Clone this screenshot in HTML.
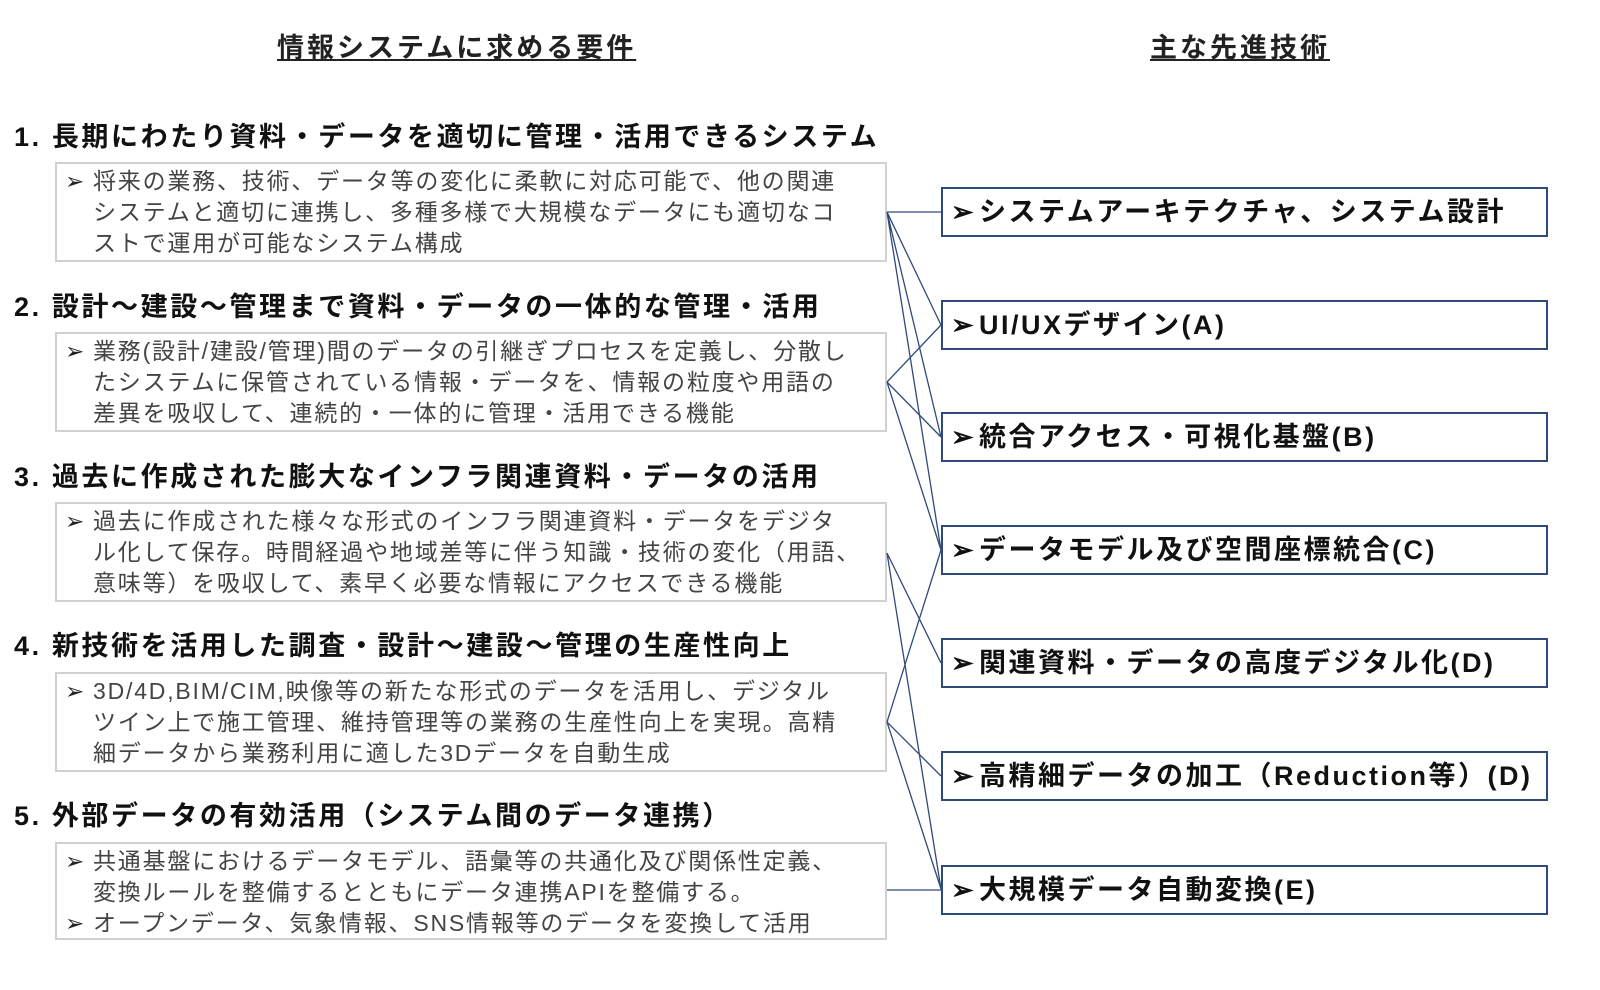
<!DOCTYPE html><html><head><meta charset="utf-8"><style>
body{margin:0;width:1600px;height:990px;background:#fff;position:relative;font-family:"Liberation Sans","Noto Sans CJK JP",sans-serif;color:#222;overflow:hidden}
.t{position:absolute;font-size:27px;font-weight:bold;text-decoration:underline;white-space:nowrap;letter-spacing:3px}
.h{position:absolute;left:14px;font-size:27px;font-weight:bold;white-space:nowrap;color:#111;letter-spacing:2.6px}
.b{position:absolute;left:55px;width:832px;height:98px;border:2px solid #d0d0d0;box-sizing:border-box;font-size:23px;line-height:31px;color:#444;padding:2px 0 0 36px;letter-spacing:1.8px}
.b p{margin:0;position:relative;white-space:nowrap}
.b p:before{content:"➢";position:absolute;left:-28px;color:#222}
.r{position:absolute;left:941px;width:607px;height:50px;border:2px solid #2f4a7a;box-sizing:border-box;font-size:27px;font-weight:bold;line-height:46px;padding-left:36px;white-space:nowrap;color:#111;letter-spacing:2.5px}
.r:before{content:"➢";position:absolute;left:8px}
</style></head><body>
<div class="t" style="left:277px;top:26px">情報システムに求める要件</div>
<div class="t" style="left:1150px;top:26px">主な先進技術</div>
<div class="h" style="top:115px">1. 長期にわたり資料・データを適切に管理・活用できるシステム</div>
<div class="b" style="top:162px;height:100px"><p>将来の業務、技術、データ等の変化に柔軟に対応可能で、他の関連<br>システムと適切に連携し、多種多様で大規模なデータにも適切なコ<br>ストで運用が可能なシステム構成</p></div>
<div class="h" style="top:285px">2. 設計～建設～管理まで資料・データの一体的な管理・活用</div>
<div class="b" style="top:332px;height:100px"><p>業務(設計/建設/管理)間のデータの引継ぎプロセスを定義し、分散し<br>たシステムに保管されている情報・データを、情報の粒度や用語の<br>差異を吸収して、連続的・一体的に管理・活用できる機能</p></div>
<div class="h" style="top:455px">3. 過去に作成された膨大なインフラ関連資料・データの活用</div>
<div class="b" style="top:502px;height:100px"><p>過去に作成された様々な形式のインフラ関連資料・データをデジタ<br>ル化して保存。時間経過や地域差等に伴う知識・技術の変化（用語、<br>意味等）を吸収して、素早く必要な情報にアクセスできる機能</p></div>
<div class="h" style="top:624px">4. 新技術を活用した調査・設計～建設～管理の生産性向上</div>
<div class="b" style="top:672px;height:100px"><p>3D/4D,BIM/CIM,映像等の新たな形式のデータを活用し、デジタル<br>ツイン上で施工管理、維持管理等の業務の生産性向上を実現。高精<br>細データから業務利用に適した3Dデータを自動生成</p></div>
<div class="h" style="top:794px">5. 外部データの有効活用（システム間のデータ連携）</div>
<div class="b" style="top:842px;height:98px"><p>共通基盤におけるデータモデル、語彙等の共通化及び関係性定義、<br>変換ルールを整備するとともにデータ連携APIを整備する。</p><p>オープンデータ、気象情報、SNS情報等のデータを変換して活用</p></div>
<svg style="position:absolute;left:0;top:0" width="1600" height="990"><g stroke="#2f4a7a" stroke-width="1.3" fill="none">
<path d="M887 212L941 212M887 212L941 325M887 212L941 437M887 212L941 550"/>
<path d="M887 382L941 325M887 382L941 437M887 382L941 550"/>
<path d="M887 553L941 663M887 553L941 889"/>
<path d="M887 722L941 550M887 722L941 776M887 722L941 889"/>
<path d="M887 890L941 890"/>
</g></svg>
<div class="r" style="top:187px">システムアーキテクチャ、システム設計</div>
<div class="r" style="top:300px">UI/UXデザイン(A)</div>
<div class="r" style="top:412px">統合アクセス・可視化基盤(B)</div>
<div class="r" style="top:525px">データモデル及び空間座標統合(C)</div>
<div class="r" style="top:638px">関連資料・データの高度デジタル化(D)</div>
<div class="r" style="top:751px">高精細データの加工（Reduction等）(D)</div>
<div class="r" style="top:865px">大規模データ自動変換(E)</div>
</body></html>
